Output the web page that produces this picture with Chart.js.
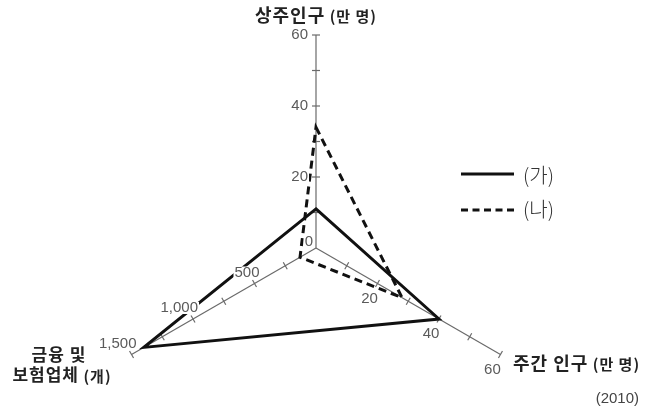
<!DOCTYPE html>
<html>
<head>
  <meta charset="utf-8">
  <title>상주인구 / 주간 인구 / 금융 및 보험업체</title>
  <script src="https://cdn.jsdelivr.net/npm/chart.js@4/dist/chart.umd.min.js"></script>
  <style>
    html, body { margin: 0; padding: 0; background: #fff; }
    #wrap { width: 648px; height: 407px; }
  </style>
</head>
<body>
  <div id="wrap"><canvas id="radar" width="648" height="407"></canvas></div>

  <script>
    // axes: top, lower right, lower left
    const axisNames = ['상주인구', '주간 인구', '금융 및 보험업체'];
    const axisMax = [60, 60, 1500];
    const axisStep = [10, 10, 250];
    const tickValues = [[0, 20, 40, 60], [20, 40, 60], [500, 1000, 1500]];
    const tickLabels = [['0', '20', '40', '60'], ['20', '40', '60'], ['500', '1,000', '1,500']];

    // series values (2010)
    const seriesNames = ['(가)', '(나)'];
    const gaValues = [11, 40, 1400];
    const naValues = [34, 28, 130];

    const KR = '"Noto Sans CJK KR", "Noto Sans", sans-serif';
    const NUM = '"Liberation Sans", Arial, sans-serif';

    // every axis is drawn on a common 0..60 radius
    const toRadial = (vals) => vals.map((v, i) => v * 60 / axisMax[i]);
    const PX_PER_60 = 213;   // length of a full axis in pixels
    const DRAW_AREA = 150;   // drawingArea given the layout padding below

    const pos = (r, i, v) => r.getPointPositionForValue(i, v * 60 / axisMax[i]);

    const overlay = {
      id: 'overlay',
      beforeDatasetsDraw(chart) {
        const ctx = chart.ctx;
        const r = chart.scales.r;
        const c = { x: r.xCenter, y: r.yCenter };

        ctx.save();
        // axis lines + tick marks
        ctx.strokeStyle = '#6a6a6a';
        ctx.lineWidth = 1.2;
        for (let i = 0; i < axisNames.length; i++) {
          const end = pos(r, i, axisMax[i]);
          ctx.beginPath();
          ctx.moveTo(c.x, c.y);
          ctx.lineTo(end.x, end.y);
          ctx.stroke();
          const len = Math.hypot(end.x - c.x, end.y - c.y);
          const nx = -(end.y - c.y) / len, ny = (end.x - c.x) / len;
          for (let v = axisStep[i]; v <= axisMax[i] + 1e-9; v += axisStep[i]) {
            const p = pos(r, i, v);
            ctx.beginPath();
            ctx.moveTo(p.x - nx * 4, p.y - ny * 4);
            ctx.lineTo(p.x + nx * 4, p.y + ny * 4);
            ctx.stroke();
          }
        }

        // axis titles
        ctx.fillStyle = '#222';
        ctx.textBaseline = 'middle';
        ctx.letterSpacing = '1px';
        const title = (main, unit, x, y, align, size) => {
          ctx.font = 'bold ' + size + 'px ' + KR;
          const w1 = ctx.measureText(main).width;
          ctx.font = 'bold 15px ' + KR;
          const w2 = ctx.measureText(unit).width;
          let x0 = x;
          if (align === 'center') x0 = x - (w1 + w2) / 2;
          ctx.textAlign = 'left';
          ctx.font = 'bold ' + size + 'px ' + KR;
          ctx.fillText(main, x0, y);
          ctx.font = 'bold 15px ' + KR;
          ctx.fillText(unit, x0 + w1, y + 1);
        };
        const top = pos(r, 0, axisMax[0]);
        title(axisNames[0], ' (만 명)', top.x, 15, 'center', 18);
        title(axisNames[1], ' (만 명)', 513, 363, 'left', 18);
        ctx.font = 'bold 17px ' + KR;
        ctx.textAlign = 'center';
        ctx.fillText('금융 및', 59, 355);
        title('보험업체', ' (개)', 62, 375, 'center', 17);
        ctx.letterSpacing = '0px';

        // legend
        ctx.strokeStyle = '#111';
        ctx.lineWidth = 3;
        ctx.beginPath();
        ctx.moveTo(461, 174);
        ctx.lineTo(514, 174);
        ctx.stroke();
        ctx.setLineDash([7, 4.5]);
        ctx.beginPath();
        ctx.moveTo(461, 210);
        ctx.lineTo(514, 210);
        ctx.stroke();
        ctx.setLineDash([]);
        ctx.fillStyle = '#333';
        ctx.font = '300 20px ' + KR;
        ctx.textAlign = 'left';
        ctx.fillText(seriesNames[0], 523, 175);
        ctx.fillText(seriesNames[1], 523, 209);

        // source year
        ctx.fillStyle = '#444';
        ctx.font = '15px ' + NUM;
        ctx.textAlign = 'right';
        ctx.fillText('(2010)', 639, 399);
        ctx.restore();
      },
      afterDatasetsDraw(chart) {
        // tick labels on a white backdrop (they break the lines behind them)
        const ctx = chart.ctx;
        const r = chart.scales.r;
        ctx.save();
        ctx.font = '15px ' + NUM;
        ctx.textBaseline = 'middle';
        const label = (text, x, y, align) => {
          const w = ctx.measureText(text).width;
          const x0 = align === 'right' ? x - w : align === 'center' ? x - w / 2 : x;
          ctx.fillStyle = '#fff';
          ctx.fillRect(x0 - 1, y - 6, w + 2, 12);
          ctx.fillStyle = '#5a5a5a';
          ctx.textAlign = align;
          ctx.fillText(text, x, y);
        };
        tickValues[0].forEach((v, k) => {
          const p = pos(r, 0, v);
          if (v === 0) label(tickLabels[0][k], p.x - 3, p.y - 6, 'right');
          else label(tickLabels[0][k], p.x - 8, p.y, 'right');
        });
        tickValues[1].forEach((v, k) => {
          const p = pos(r, 1, v);
          label(tickLabels[1][k], p.x - 8, p.y + 15, 'center');
        });
        tickValues[2].forEach((v, k) => {
          const p = pos(r, 2, v);
          label(tickLabels[2][k], p.x + 5, p.y - 11, 'right');
        });
        ctx.restore();
      }
    };

    new Chart(document.getElementById('radar'), {
      type: 'radar',
      data: {
        labels: axisNames,
        datasets: [{
          label: seriesNames[0],
          data: toRadial(gaValues),
          borderColor: '#111',
          borderWidth: 3,
          fill: false,
          pointRadius: 0,
          clip: false
        }, {
          label: seriesNames[1],
          data: toRadial(naValues),
          borderColor: '#111',
          borderWidth: 3,
          borderDash: [8, 5],
          fill: false,
          pointRadius: 0,
          clip: false
        }]
      },
      options: {
        responsive: false,
        animation: false,
        layout: { padding: { left: 166, right: 182, top: 89, bottom: 0 } },
        plugins: { legend: { display: false }, tooltip: { enabled: false } },
        elements: { line: { tension: 0, borderJoinStyle: 'miter' } },
        scales: {
          r: {
            min: 0,
            max: 60 * DRAW_AREA / PX_PER_60,
            grid: { display: false },
            angleLines: { display: false },
            pointLabels: { display: false },
            ticks: { display: false }
          }
        }
      },
      plugins: [overlay]
    });
  </script>
</body>
</html>
